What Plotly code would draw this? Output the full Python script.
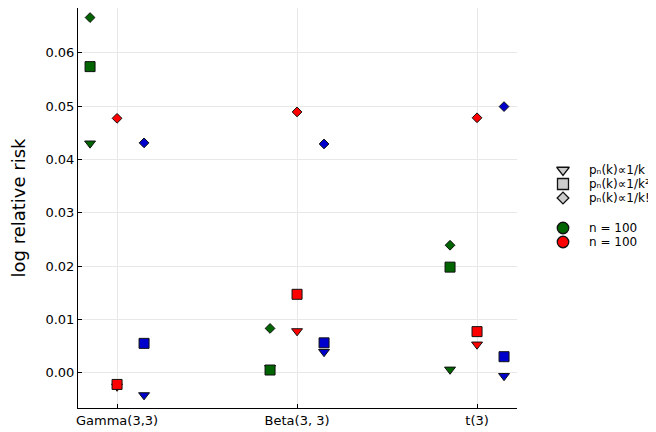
import plotly.graph_objects as go

categories = ["Gamma(3,3)", "Beta(3, 3)", "t(3)"]
cat_pos = [1, 2, 3]

# values per colour group (green, red, blue) and marker type
green_tri = [0.0430, 0.0009, 0.0006]
green_sq = [0.0574, 0.0005, 0.0198]
green_dia = [0.0666, 0.0083, 0.0239]
red_tri = [-0.0026, 0.0078, 0.0053]
red_sq = [-0.0022, 0.0147, 0.0077]
red_dia = [0.0477, 0.0489, 0.0478]
blue_tri = [-0.0042, 0.0039, -0.0006]
blue_sq = [0.0055, 0.0056, 0.0030]
blue_dia = [0.0431, 0.0429, 0.0499]

legend_labels = ["pₙ(k)∝1/k", "pₙ(k)∝1/k²", "pₙ(k)∝1/k!", "n = 100", "n = 100"]

colors = {"green": "#006400", "red": "#ff0000", "blue": "#0000cd"}
offsets = {"green": -0.15, "red": 0.0, "blue": 0.15}
symbols = {"tri": ("triangle-down", 9.5), "sq": ("square", 10), "dia": ("diamond", 7.5)}

series = [
    ("tri", "green", green_tri), ("tri", "red", red_tri), ("tri", "blue", blue_tri),
    ("sq", "green", green_sq), ("sq", "red", red_sq), ("sq", "blue", blue_sq),
    ("dia", "green", green_dia), ("dia", "red", red_dia), ("dia", "blue", blue_dia),
]

W, H = 648, 424
ML, MB = 70, 24
PLOT_W = 439
area_w = W - ML
main_frac = PLOT_W / area_w

fig = go.Figure()
for kind, col, vals in series:
    sym, size = symbols[kind]
    fig.add_trace(go.Scatter(
        x=[p + offsets[col] for p in cat_pos], y=vals, mode="markers",
        marker=dict(symbol=sym, size=size, color=colors[col],
                    line=dict(color="#111111", width=1)),
        showlegend=False, hoverinfo="skip"))

# custom legend drawn on a hidden pixel-unit axis pair
leg_syms = [("triangle-down", 11, "#cccccc"), ("square", 11, "#cccccc"),
            ("diamond", 9, "#cccccc"), ("circle", 11.5, "#006400"),
            ("circle", 11.5, "#ff0000")]
leg_rows = [162, 176, 190, 220, 234]
leg_mx, leg_tx = 555, 579
for (sym, size, col), ry, lab in zip(leg_syms, leg_rows, legend_labels):
    fig.add_trace(go.Scatter(
        x=[leg_mx], y=[ry], xaxis="x2", yaxis="y2", mode="markers",
        marker=dict(symbol=sym, size=size, color=col,
                    line=dict(color="#111111", width=1.3)),
        showlegend=False, hoverinfo="skip"))
    fig.add_annotation(x=leg_tx, y=ry, xref="x2", yref="y2", text=lab,
                       showarrow=False, xanchor="left", yanchor="middle",
                       font=dict(size=12, family="DejaVu Sans", color="black"))

axis_common = dict(
    showline=True, linecolor="black", linewidth=1, mirror=False,
    showgrid=True, gridcolor="#e8e8e8", gridwidth=1, zeroline=False,
    ticks="inside", ticklen=4, tickcolor="black",
    tickfont=dict(family="DejaVu Sans", size=13, color="black"),
)

fig.update_layout(
    width=W, height=H,
    margin=dict(l=ML, r=0, t=0, b=MB),
    paper_bgcolor="white", plot_bgcolor="white",
    font=dict(family="DejaVu Sans", color="black"),
    showlegend=False,
    xaxis=dict(domain=[0, main_frac], range=[0.783, 3.222], tickvals=cat_pos,
               ticktext=categories, **axis_common),
    yaxis=dict(range=[-0.00662, 0.06839], tickvals=[0, 0.01, 0.02, 0.03, 0.04, 0.05, 0.06],
               tickformat=".2f",
               title=dict(text="log relative risk",
                          font=dict(size=18, family="DejaVu Sans"), standoff=15),
               **axis_common),
    xaxis2=dict(domain=[main_frac, 1], range=[ML + PLOT_W, W], visible=False,
                showgrid=False, zeroline=False, fixedrange=True),
    yaxis2=dict(domain=[0, 1], range=[H - MB, 0], visible=False, anchor="x2",
                showgrid=False, zeroline=False, fixedrange=True),
)

fig.write_html("out.html")
